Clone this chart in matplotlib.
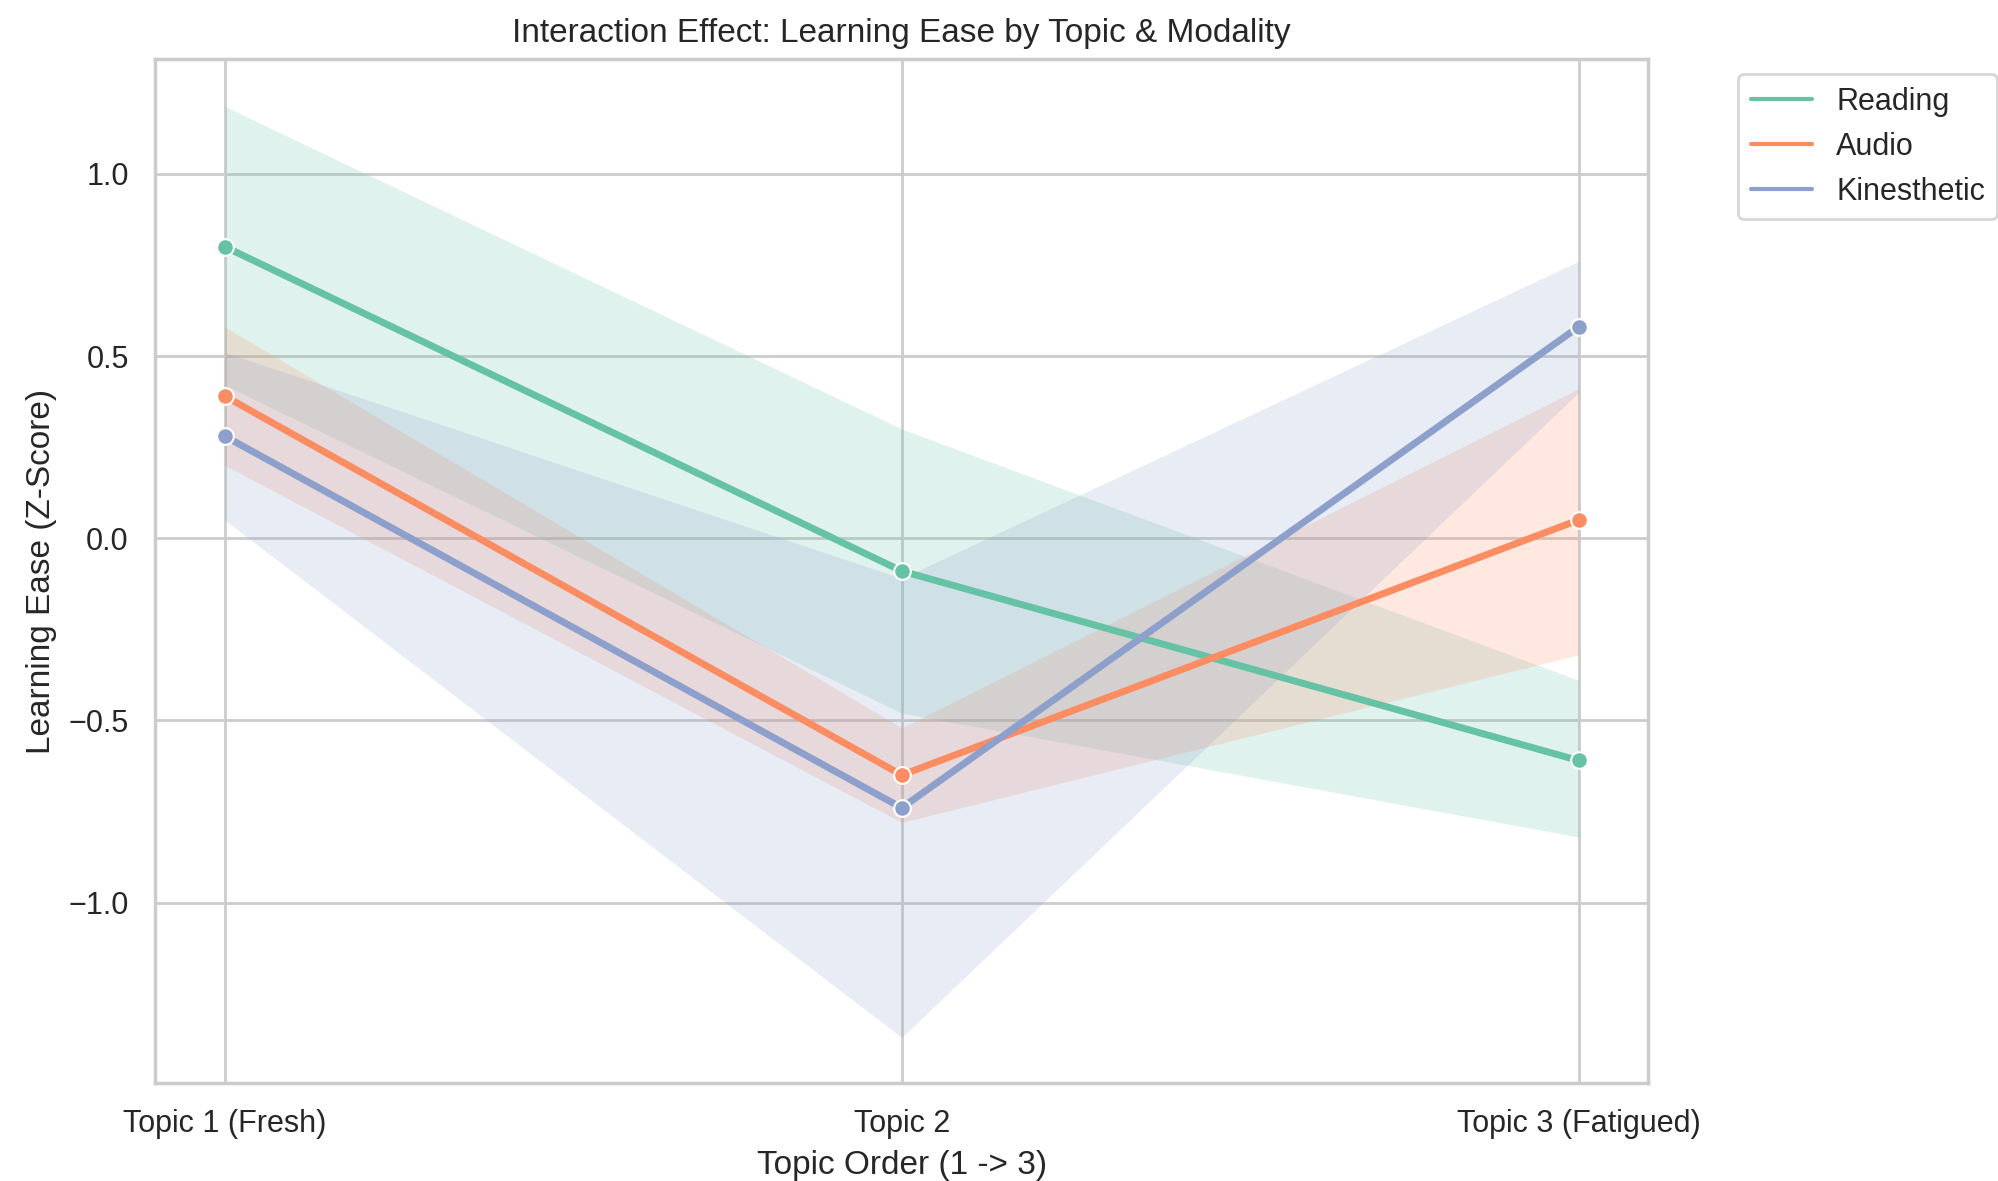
import matplotlib
matplotlib.use("Agg")
import matplotlib.pyplot as plt
from matplotlib.lines import Line2D
import seaborn as sns

sns.set_theme(style="whitegrid", context="notebook")
plt.rcParams['font.family'] = ['Liberation Sans', 'DejaVu Sans']

# data
topics = ["Topic 1 (Fresh)", "Topic 2", "Topic 3 (Fatigued)"]
modalities = ["Reading", "Audio", "Kinesthetic"]
colors = ["#66c2a5", "#fc8d62", "#8da0cb"]

reading_mean = [0.80, -0.09, -0.61]
reading_low = [0.42, -0.48, -0.82]
reading_high = [1.185, 0.30, -0.39]

audio_mean = [0.39, -0.65, 0.05]
audio_low = [0.20, -0.78, -0.32]
audio_high = [0.58, -0.52, 0.41]

kin_mean = [0.28, -0.74, 0.58]
kin_low = [0.05, -1.37, 0.40]
kin_high = [0.51, -0.11, 0.76]

means = [reading_mean, audio_mean, kin_mean]
lows = [reading_low, audio_low, kin_low]
highs = [reading_high, audio_high, kin_high]

fig = plt.figure(figsize=(9.99, 5.905), dpi=200)
ax = fig.add_axes([0.0776, 0.083, 0.7474, 0.867])

x = list(range(len(topics)))
for name, c, m, lo, hi in zip(modalities, colors, means, lows, highs):
    ax.plot(x, m, color=c, lw=2.5, marker="o", markersize=6,
            markeredgecolor="white", markeredgewidth=0.75, label=name)
    ax.fill_between(x, lo, hi, color=c, alpha=0.2, linewidth=0)

ax.set_xticks(x)
ax.set_xticklabels(topics)
ax.set_xlim(-0.103, 2.103)
ax.set_ylim(-1.495, 1.315)
ax.set_title("Interaction Effect: Learning Ease by Topic & Modality", fontsize=12)
ax.set_xlabel("Topic Order (1 -> 3)", fontsize=12)
ax.set_ylabel("Learning Ease (Z-Score)", fontsize=12)

handles = [Line2D([0], [0], color=c, lw=1.5) for c in colors]
ax.legend(handles, modalities, loc="upper left", bbox_to_anchor=(1.05, 1), fontsize=11)

fig.savefig("out.png", dpi=200)
